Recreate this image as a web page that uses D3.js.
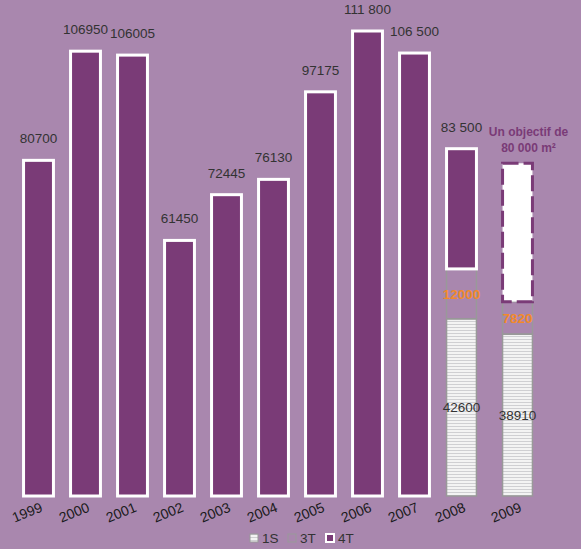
<!DOCTYPE html>
<html>
<head>
<meta charset="utf-8">
<script src="https://cdn.jsdelivr.net/npm/d3@7"></script>
<style>
  body { margin: 0; background: #a987ae; }
</style>
</head>
<body>
<script>
/* data */
var years = ["1999", "2000", "2001", "2002", "2003", "2004", "2005", "2006", "2007", "2008", "2009"];
var s1S = [0, 0, 0, 0, 0, 0, 0, 0, 0, 42600, 38910];
var s3T = [0, 0, 0, 0, 0, 0, 0, 0, 0, 12000, 7820];
var s4T = [80700, 106950, 106005, 61450, 72445, 76130, 97175, 111800, 106500, 28900, 33270];
var topLabels = ["80700", "106950", "106005", "61450", "72445", "76130", "97175", "111 800", "106 500", "83 500", ""];
var goalLines = ["Un objectif de", "80 000 m²"];
var keys = ["1S", "3T", "4T"];

var width = 581, height = 549;
var purple = "#7a3b77", orange = "#f28a2a";

var svg = d3.select("body").append("svg")
    .attr("width", width)
    .attr("height", height)
    .attr("font-family", "Arial, 'Liberation Sans', sans-serif");

svg.append("rect").attr("width", width).attr("height", height).attr("fill", "#a987ae");

/* striped fill for 1S */
var pat = svg.append("defs").append("pattern")
    .attr("id", "stripes")
    .attr("patternUnits", "userSpaceOnUse")
    .attr("width", 6).attr("height", 3);
pat.append("rect").attr("width", 6).attr("height", 3).attr("fill", "#f3f3f3");
pat.append("rect").attr("width", 6).attr("height", 1).attr("fill", "#cfcfd2");

var data = years.map(function(y, i) {
    return {year: y, "1S": s1S[i], "3T": s3T[i], "4T": s4T[i], label: topLabels[i]};
});

var x = d3.scaleBand().domain(years).range([15, 532]).paddingInner(0.3).paddingOuter(0.15);
var y = d3.scaleLinear().domain([0, 111800]).range([496, 31]);

/* the 2009 goal bar sits a bit further right */
function bx(d) { return x(d) + (d === "2009" ? 9 : 0); }

var stacked = d3.stack().keys(keys)(data);

var layer = svg.selectAll(".layer")
    .data(stacked)
    .enter().append("g")
    .attr("class", "layer");

layer.selectAll("rect")
    .data(function(d) { return d.map(function(p) { return {key: d.key, p: p}; }); })
    .enter().filter(function(d) { return d.p[1] - d.p[0] > 0; })
    .append("rect")
    .attr("x", function(d) { return bx(d.p.data.year) + 1.5; })
    .attr("width", x.bandwidth() - 3)
    .attr("y", function(d) { return y(d.p[1]); })
    .attr("height", function(d) { return y(d.p[0]) - y(d.p[1]); })
    .attr("fill", function(d) {
        if (d.key === "1S") return "url(#stripes)";
        if (d.key === "3T") return "none";
        return d.p.data.year === "2009" ? "#ffffff" : purple;
    })
    .attr("stroke", function(d) {
        if (d.key === "4T") return d.p.data.year === "2009" ? purple : "#ffffff";
        return "#999999";
    })
    .attr("stroke-width", function(d) { return d.key === "4T" ? 3 : 1.5; })
    .attr("stroke-dasharray", function(d) {
        return d.key === "4T" && d.p.data.year === "2009" ? "16,5" : null;
    });

/* total labels above the bars */
svg.selectAll(".total")
    .data(data)
    .enter().append("text")
    .attr("class", "total")
    .attr("x", function(d) { return bx(d.year) + x.bandwidth() / 2; })
    .attr("y", function(d) { return y(d["1S"] + d["3T"] + d["4T"]) - 17; })
    .attr("text-anchor", "middle")
    .style("font-size", "13.5px")
    .attr("fill", "#333")
    .text(function(d) { return d.label; });

/* goal text for 2009 */
svg.append("text")
    .attr("x", bx("2009") + x.bandwidth() / 2 + 11)
    .attr("y", y(80000) - 27)
    .attr("text-anchor", "middle")
    .style("font-size", "12px")
    .style("font-weight", "bold")
    .attr("fill", purple)
    .selectAll("tspan")
    .data(goalLines)
    .enter().append("tspan")
    .attr("x", bx("2009") + x.bandwidth() / 2 + 11)
    .attr("dy", function(d, i) { return i ? 16 : 0; })
    .text(function(d) { return d; });

/* inner segment labels */
var inner = stacked.filter(function(s) { return s.key !== "4T"; });
inner.forEach(function(s) {
    svg.selectAll(".lab" + s.key)
        .data(s.filter(function(p) { return p[1] - p[0] > 0; }))
        .enter().append("text")
        .attr("x", function(p) { return bx(p.data.year) + x.bandwidth() / 2; })
        .attr("y", function(p) { return (y(p[0]) + y(p[1])) / 2; })
        .attr("dy", "0.35em")
        .attr("text-anchor", "middle")
        .style("font-size", "13.5px")
        .style("font-weight", s.key === "3T" ? "bold" : "normal")
        .attr("fill", s.key === "3T" ? orange : "#333")
        .text(function(p) { return p[1] - p[0]; });
});

/* rotated year labels */
svg.selectAll(".year")
    .data(years)
    .enter().append("text")
    .attr("class", "year")
    .attr("transform", function(d) {
        return "translate(" + (bx(d) + x.bandwidth() / 2 + 5) + ",511) rotate(-22)";
    })
    .attr("text-anchor", "end")
    .style("font-size", "14px")
    .attr("fill", "#1a1a1a")
    .text(function(d) { return d; });

/* legend */
var legend = svg.selectAll(".legend")
    .data(keys)
    .enter().append("g")
    .attr("class", "legend")
    .attr("transform", function(d, i) { return "translate(" + [250, 288, 326][i] + ",534)"; });

legend.append("rect")
    .attr("width", 8).attr("height", 8)
    .attr("fill", function(d) { return d === "1S" ? "url(#stripes)" : d === "3T" ? "none" : purple; })
    .attr("stroke", function(d) { return d === "4T" ? "#ffffff" : "#999999"; })
    .attr("stroke-width", function(d) { return d === "4T" ? 2 : 1; });

legend.append("text")
    .attr("x", 12)
    .attr("y", 4)
    .attr("dy", "0.35em")
    .style("font-size", "13.5px")
    .attr("fill", "#333")
    .text(function(d) { return d; });
</script>
</body>
</html>
